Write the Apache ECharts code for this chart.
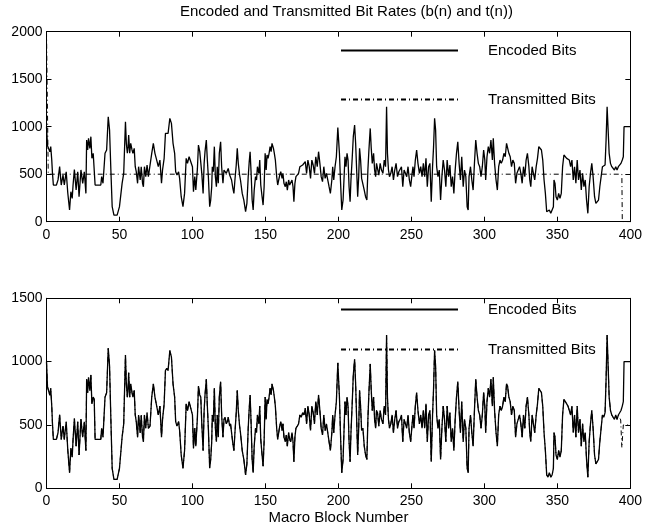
<!DOCTYPE html>
<html><head><meta charset="utf-8">
<script src="https://cdn.jsdelivr.net/npm/echarts@6/dist/echarts.min.js"></script>
<style>html,body{margin:0;padding:0;background:#fff}#c{width:645px;height:527px}</style>
</head><body><div id="c"></div>
<script>
const titleText = 'Encoded and Transmitted Bit Rates (b(n) and t(n))';
const xAxisName = 'Macro Block Number';
const seriesNames = ['Encoded Bits', 'Transmitted Bits'];
const xRange = [0, 400, 50];
const topYRange = [0, 2000, 500];
const bottomYRange = [0, 1500, 500];

// b(n): encoded bits per macro block as [block, bits]
const encodedBits = [[0,1000],[0.7,800],[1.4,810],[2.3,735],[2.9,790],[3.6,650],[4.1,509],[4.7,386],[6.8,386],[7.9,440],[9.0,580],[10.1,386],[11.3,490],[12.2,386],[13.5,525],[14.6,300],[15.8,123],[16.7,316],[17.6,245],[18.2,386],[19.1,550],[20.3,333],[21.4,525],[22.3,263],[23.6,545],[24.8,404],[25.9,525],[27.0,298],[27.5,860],[28.2,755],[28.8,877],[29.7,772],[30.4,895],[31.1,667],[32.0,720],[32.7,702],[33.3,386],[37.2,386],[37.8,474],[38.7,404],[40.1,720],[41.2,755],[42.3,1105],[43.2,965],[44.1,545],[45.0,158],[46.2,70],[48.4,70],[50.0,158],[51.8,404],[52.9,509],[54.1,1053],[54.7,825],[55.4,720],[55.9,790],[56.3,912],[57.0,720],[57.7,825],[58.6,755],[59.2,720],[60.1,772],[60.8,579],[61.5,526],[62.4,404],[63.1,579],[64.2,439],[64.9,579],[65.8,404],[66.4,368],[67.1,579],[68.0,474],[68.9,597],[69.8,474],[70.9,491],[72.1,720],[73.2,825],[74.3,720],[75.5,649],[76.6,579],[77.7,649],[78.8,404],[79.5,544],[80.6,667],[81.5,930],[82.4,947],[83.3,930],[84.5,1088],[85.6,1035],[86.7,825],[87.8,720],[88.5,526],[89.4,491],[90.5,526],[91.2,456],[92.3,263],[93.5,158],[94.6,298],[95.7,667],[96.6,614],[97.7,684],[98.9,684],[100,579],[100.7,316],[101.6,474],[102.3,333],[103.4,561],[104.1,807],[105.0,737],[105.7,720],[106.4,509],[107.3,298],[108.0,614],[108.6,737],[109.5,860],[110.2,649],[110.9,474],[111.8,158],[112.5,228],[113.2,368],[113.6,579],[114.3,526],[115.0,790],[115.7,474],[116.4,368],[117.0,579],[117.7,404],[118.4,720],[119.3,842],[120.0,579],[120.9,404],[121.6,544],[122.3,561],[123.2,509],[123.9,526],[124.5,561],[125.5,491],[126.1,509],[126.8,439],[127.7,351],[128.4,298],[129.1,439],[130.0,597],[130.7,772],[131.4,614],[132.3,491],[132.9,439],[134.1,298],[135.2,228],[136.4,105],[137.3,193],[138.2,474],[138.9,632],[139.5,737],[140.2,509],[140.9,228],[141.6,123],[142.3,333],[143.2,474],[143.9,439],[144.5,579],[145.5,509],[146.1,649],[146.8,386],[147.7,263],[148.4,175],[149.1,368],[149.8,720],[150.5,544],[151.1,702],[151.8,667],[152.5,720],[153.2,790],[153.9,737],[154.5,825],[155.5,772],[156.1,720],[156.8,649],[157.7,474],[158.4,386],[159.1,439],[159.8,491],[160.5,526],[161.4,456],[162.0,509],[162.7,404],[163.6,368],[164.3,421],[165.0,333],[165.9,439],[166.6,386],[167.3,368],[168.2,439],[168.9,368],[169.5,210],[170.2,404],[170.9,474],[171.8,491],[172.7,509],[173.6,579],[174.5,561],[175.5,597],[176.4,579],[177.3,632],[178.2,509],[179.1,649],[180.0,579],[180.9,456],[181.8,649],[182.7,597],[183.6,509],[184.5,684],[185.5,579],[186.4,737],[187.3,614],[188.2,474],[189.1,421],[190.0,579],[190.9,456],[191.8,509],[192.7,439],[193.6,368],[194.5,298],[195.5,439],[196.1,579],[196.8,439],[197.7,579],[198.6,684],[199.6,990],[200.7,720],[201.4,439],[202.3,123],[203.2,228],[203.9,474],[204.5,684],[205.2,579],[205.9,720],[206.6,649],[207.3,368],[208.0,210],[208.6,439],[209.5,684],[210.2,895],[211.1,1018],[211.8,825],[212.5,544],[213.2,263],[213.9,474],[214.5,772],[215.2,649],[215.9,456],[216.8,474],[217.7,333],[218.6,263],[219.5,228],[220.2,544],[220.9,755],[221.8,982],[222.5,772],[223.2,614],[224.1,720],[224.8,544],[225.5,474],[226.1,614],[226.8,597],[227.7,491],[228.6,614],[229.5,544],[230.5,509],[231.4,649],[232.3,579],[233.0,1210],[233.6,720],[234.3,544],[235.0,474],[235.9,509],[236.8,579],[237.7,439],[238.6,544],[239.5,614],[240.5,474],[241.4,526],[242.3,544],[243.2,579],[244.1,368],[245.0,544],[245.9,509],[246.8,474],[247.7,579],[248.6,439],[249.5,368],[250.5,509],[251.1,579],[251.8,474],[252.7,649],[253.6,755],[254.5,614],[255.5,509],[256.4,579],[257.3,474],[258.2,614],[259.1,474],[260.0,667],[260.9,368],[261.8,579],[262.7,614],[263.6,210],[264.5,579],[265.2,790],[265.9,1088],[266.6,965],[267.3,579],[268.2,474],[269.1,544],[270.0,228],[270.9,474],[271.8,649],[272.7,544],[273.6,368],[274.5,649],[275.5,474],[276.4,597],[277.3,368],[278.2,474],[279.1,298],[280.0,544],[280.9,720],[281.8,842],[282.7,614],[283.6,439],[284.5,684],[285.5,368],[286.4,544],[287.3,474],[288.2,158],[288.9,123],[289.5,474],[290.5,579],[291.4,439],[292.3,333],[293.2,614],[294.1,860],[295.0,720],[295.9,614],[296.8,579],[297.7,474],[298.6,579],[299.5,755],[300.3,650],[300.9,439],[301.8,684],[302.7,790],[303.6,720],[304.5,860],[305.5,649],[306.1,877],[307.0,614],[308.0,439],[308.9,333],[309.8,579],[310.7,649],[311.6,614],[312.5,649],[313.4,720],[314.3,684],[315.2,825],[315.9,807],[316.8,720],[317.7,684],[318.6,579],[319.5,649],[320.5,614],[321.4,404],[322.3,509],[323.2,544],[324.1,579],[325.0,509],[325.9,404],[326.8,579],[327.7,474],[328.6,649],[329.5,720],[330.5,579],[331.1,439],[331.8,368],[332.7,579],[333.6,509],[334.5,439],[335.5,579],[336.4,667],[337.3,790],[338.2,772],[339.1,755],[340.0,649],[340.9,439],[341.8,298],[342.7,105],[343.6,88],[344.5,123],[345.5,88],[346.4,105],[347.3,158],[347.7,439],[348.4,404],[349.1,263],[350.0,228],[350.9,298],[351.8,246],[352.7,298],[353.6,579],[354.5,702],[355.5,684],[356.4,667],[357.3,649],[358.2,649],[359.1,579],[360.0,649],[360.9,439],[361.8,579],[362.7,404],[363.6,649],[364.5,439],[365.5,544],[366.4,333],[367.3,509],[368.2,368],[369.1,439],[370.0,228],[370.9,88],[371.8,368],[372.7,509],[373.6,614],[374.5,474],[375.5,263],[376.4,193],[377.3,210],[378.2,228],[379.1,368],[380.0,474],[380.9,579],[381.8,561],[382.7,597],[383.4,860],[384.1,1210],[384.8,965],[385.5,720],[386.4,614],[387.3,579],[388.2,561],[389.1,544],[390.0,579],[390.9,544],[391.8,579],[392.7,579],[393.6,614],[394.5,649],[395.2,684],[395.7,1000],[400,1000]];

// t(n) in the upper plot: constant-rate channel
const transmittedTop = [[0,2000],[1.2,500],[394.2,500],[394.5,0],[400,0]];

// t(n) in the lower plot: follows b(n) closely
const transmittedBottom = [[0,1000],[0.7,800],[1.4,810],[2.3,735],[2.9,790],[3.6,650],[4.1,509],[4.7,386],[6.8,386],[7.9,440],[9.0,580],[10.1,386],[11.3,490],[12.2,386],[13.5,525],[14.6,300],[15.8,123],[16.7,316],[17.6,245],[18.2,386],[19.1,550],[20.3,333],[21.4,525],[22.3,263],[23.6,545],[24.8,404],[25.9,525],[27.0,298],[27.5,860],[28.2,755],[28.8,877],[29.7,772],[30.4,895],[31.1,667],[32.0,720],[32.7,702],[33.3,386],[37.2,386],[37.8,474],[38.7,404],[40.1,720],[41.2,755],[42.3,1105],[43.2,965],[44.1,545],[45.0,158],[46.2,70],[48.4,70],[50.0,158],[51.8,404],[52.9,509],[54.1,1053],[54.7,825],[55.4,720],[55.9,790],[56.3,912],[57.0,720],[57.7,825],[58.6,755],[59.2,720],[60.1,772],[60.8,579],[61.5,526],[62.4,404],[63.1,579],[64.2,439],[64.9,579],[65.8,404],[66.4,368],[67.1,579],[68.0,474],[68.9,597],[69.8,474],[70.9,491],[72.1,720],[73.2,825],[74.3,720],[75.5,649],[76.6,579],[77.7,649],[78.8,404],[79.5,544],[80.6,667],[81.5,930],[82.4,947],[83.3,930],[84.5,1088],[85.6,1035],[86.7,825],[87.8,720],[88.5,526],[89.4,491],[90.5,526],[91.2,456],[92.3,263],[93.5,158],[94.6,298],[95.7,667],[96.6,614],[97.7,684],[98.9,684],[100,579],[100.7,316],[101.6,474],[102.3,333],[103.4,561],[104.1,807],[105.0,737],[105.7,720],[106.4,509],[107.3,298],[108.0,614],[108.6,737],[109.5,860],[110.2,649],[110.9,474],[111.8,158],[112.5,228],[113.2,368],[113.6,579],[114.3,526],[115.0,790],[115.7,474],[116.4,368],[117.0,579],[117.7,404],[118.4,720],[119.3,842],[120.0,579],[120.9,404],[121.6,544],[122.3,561],[123.2,509],[123.9,526],[124.5,561],[125.5,491],[126.1,509],[126.8,439],[127.7,351],[128.4,298],[129.1,439],[130.0,597],[130.7,772],[131.4,614],[132.3,491],[132.9,439],[134.1,298],[135.2,228],[136.4,105],[137.3,193],[138.2,474],[138.9,632],[139.5,737],[140.2,509],[140.9,228],[141.6,123],[142.3,333],[143.2,474],[143.9,439],[144.5,579],[145.5,509],[146.1,649],[146.8,386],[147.7,263],[148.4,175],[149.1,368],[149.8,720],[150.5,544],[151.1,702],[151.8,667],[152.5,720],[153.2,790],[153.9,737],[154.5,825],[155.5,772],[156.1,720],[156.8,649],[157.7,474],[158.4,386],[159.1,439],[159.8,491],[160.5,526],[161.4,456],[162.0,509],[162.7,404],[163.6,368],[164.3,421],[165.0,333],[165.9,439],[166.6,386],[167.3,368],[168.2,439],[168.9,368],[169.5,210],[170.2,404],[170.9,474],[171.8,491],[172.7,509],[173.6,579],[174.5,561],[175.5,597],[176.4,579],[177.3,632],[178.2,509],[179.1,649],[180.0,579],[180.9,456],[181.8,649],[182.7,597],[183.6,509],[184.5,684],[185.5,579],[186.4,737],[187.3,614],[188.2,474],[189.1,421],[190.0,579],[190.9,456],[191.8,509],[192.7,439],[193.6,368],[194.5,298],[195.5,439],[196.1,579],[196.8,439],[197.7,579],[198.6,684],[199.6,990],[200.7,720],[201.4,439],[202.3,123],[203.2,228],[203.9,474],[204.5,684],[205.2,579],[205.9,720],[206.6,649],[207.3,368],[208.0,210],[208.6,439],[209.5,684],[210.2,895],[211.1,1018],[211.8,825],[212.5,544],[213.2,263],[213.9,474],[214.5,772],[215.2,649],[215.9,456],[216.8,474],[217.7,333],[218.6,263],[219.5,228],[220.2,544],[220.9,755],[221.8,982],[222.5,772],[223.2,614],[224.1,720],[224.8,544],[225.5,474],[226.1,614],[226.8,597],[227.7,491],[228.6,614],[229.5,544],[230.5,509],[231.4,649],[232.3,579],[233.0,1210],[233.6,720],[234.3,544],[235.0,474],[235.9,509],[236.8,579],[237.7,439],[238.6,544],[239.5,614],[240.5,474],[241.4,526],[242.3,544],[243.2,579],[244.1,368],[245.0,544],[245.9,509],[246.8,474],[247.7,579],[248.6,439],[249.5,368],[250.5,509],[251.1,579],[251.8,474],[252.7,649],[253.6,755],[254.5,614],[255.5,509],[256.4,579],[257.3,474],[258.2,614],[259.1,474],[260.0,667],[260.9,368],[261.8,579],[262.7,614],[263.6,210],[264.5,579],[265.2,790],[265.9,1088],[266.6,965],[267.3,579],[268.2,474],[269.1,544],[270.0,228],[270.9,474],[271.8,649],[272.7,544],[273.6,368],[274.5,649],[275.5,474],[276.4,597],[277.3,368],[278.2,474],[279.1,298],[280.0,544],[280.9,720],[281.8,842],[282.7,614],[283.6,439],[284.5,684],[285.5,368],[286.4,544],[287.3,474],[288.2,158],[288.9,123],[289.5,474],[290.5,579],[291.4,439],[292.3,333],[293.2,614],[294.1,860],[295.0,720],[295.9,614],[296.8,579],[297.7,474],[298.6,579],[299.5,755],[300.3,650],[300.9,439],[301.8,684],[302.7,790],[303.6,720],[304.5,860],[305.5,649],[306.1,877],[307.0,614],[308.0,439],[308.9,333],[309.8,579],[310.7,649],[311.6,614],[312.5,649],[313.4,720],[314.3,684],[315.2,825],[315.9,807],[316.8,720],[317.7,684],[318.6,579],[319.5,649],[320.5,614],[321.4,404],[322.3,509],[323.2,544],[324.1,579],[325.0,509],[325.9,404],[326.8,579],[327.7,474],[328.6,649],[329.5,720],[330.5,579],[331.1,439],[331.8,368],[332.7,579],[333.6,509],[334.5,439],[335.5,579],[336.4,667],[337.3,790],[338.2,772],[339.1,755],[340.0,649],[340.9,439],[341.8,298],[342.7,105],[343.6,88],[344.5,123],[345.5,88],[346.4,105],[347.3,158],[347.7,439],[348.4,404],[349.1,263],[350.0,228],[350.9,298],[351.8,246],[352.7,298],[353.6,579],[354.5,702],[355.5,684],[356.4,667],[357.3,649],[358.2,649],[359.1,579],[360.0,649],[360.9,439],[361.8,579],[362.7,404],[363.6,649],[364.5,439],[365.5,544],[366.4,333],[367.3,509],[368.2,368],[369.1,439],[370.0,228],[370.9,88],[371.8,368],[372.7,509],[373.6,614],[374.5,474],[375.5,263],[376.4,193],[377.3,210],[378.2,228],[379.1,368],[380.0,474],[380.9,579],[381.8,561],[382.7,597],[383.4,860],[384.1,1210],[384.8,965],[385.5,720],[386.4,614],[387.3,579],[388.2,561],[389.1,544],[390.0,579],[390.9,544],[391.8,579],[392.7,579],[393.4,540],[394.2,320],[395.2,500],[400,500]];

const FONT = '"Liberation Sans", Arial, Helvetica, sans-serif';
const BLACK = '#000';
const DASHDOT = [5, 3, 1, 3];

function plain(v) { return String(v); }
function xAx(grid, pos, labels, name) {
  return {
    type: 'value', gridIndex: grid, position: pos,
    min: xRange[0], max: xRange[1], interval: xRange[2],
    axisLine: { show: true, onZero: false, lineStyle: { color: BLACK, width: 1 } },
    axisTick: { show: true, inside: true, length: 5, lineStyle: { color: BLACK } },
    axisLabel: { show: labels, color: BLACK, fontSize: 14, fontFamily: FONT, margin: 6, formatter: plain },
    splitLine: { show: false },
    name: name || '', nameLocation: 'middle', nameGap: 22,
    nameTextStyle: { color: BLACK, fontSize: 15, fontFamily: FONT }
  };
}
function yAx(grid, pos, labels, r) {
  return {
    type: 'value', gridIndex: grid, position: pos,
    min: r[0], max: r[1], interval: r[2],
    axisLine: { show: true, onZero: false, lineStyle: { color: BLACK, width: 1 } },
    axisTick: { show: true, inside: true, length: 5, lineStyle: { color: BLACK } },
    axisLabel: { show: labels, color: BLACK, fontSize: 14, fontFamily: FONT, margin: 4, formatter: plain },
    splitLine: { show: false }
  };
}
function legendAt(top, gap) {
  return {
    left: 340, top: top, orient: 'vertical', padding: 0,
    itemWidth: 117, itemHeight: 14, itemGap: gap, selectedMode: false,
    data: seriesNames,
    itemStyle: { color: 'transparent', borderColor: 'transparent', borderWidth: 0, opacity: 0 },
    textStyle: { color: BLACK, fontSize: 15, fontFamily: FONT, padding: [0, 0, 0, 25] }
  };
}
function lineSeries(name, data, xi, yi, dash, width, z) {
  return {
    name: name, type: 'line', xAxisIndex: xi, yAxisIndex: yi, data: data,
    symbol: 'none', showSymbol: false, z: z, silent: true,
    lineStyle: { color: BLACK, width: width, type: dash },
    itemStyle: { color: BLACK }
  };
}

const chart = echarts.init(document.getElementById('c'), null, { renderer: 'canvas' });
chart.setOption({
  animation: false,
  backgroundColor: '#fff',
  textStyle: { fontFamily: FONT },
  title: { text: titleText, left: 180, top: 4, padding: 0,
    textStyle: { color: BLACK, fontSize: 15, fontWeight: 'normal', fontFamily: FONT } },
  legend: [legendAt(43, 34), legendAt(302, 25)],
  grid: [
    { left: 46.5, right: 13, top: 31.7, height: 190 },
    { left: 46.5, right: 13, top: 298.3, height: 190 }
  ],
  xAxis: [xAx(0, 'bottom', true), xAx(0, 'top', false), xAx(1, 'bottom', true, xAxisName), xAx(1, 'top', false)],
  yAxis: [yAx(0, 'left', true, topYRange), yAx(0, 'right', false, topYRange), yAx(1, 'left', true, bottomYRange), yAx(1, 'right', false, bottomYRange)],
  series: [
    lineSeries(seriesNames[1], transmittedTop, 0, 0, DASHDOT, 1, 2),
    lineSeries(seriesNames[0], encodedBits, 0, 0, 'solid', 1.3, 3),
    lineSeries(seriesNames[1], transmittedBottom, 2, 2, DASHDOT, 1, 2),
    lineSeries(seriesNames[0], encodedBits, 2, 2, 'solid', 1.3, 3)
  ]
});
</script>
</body></html>
